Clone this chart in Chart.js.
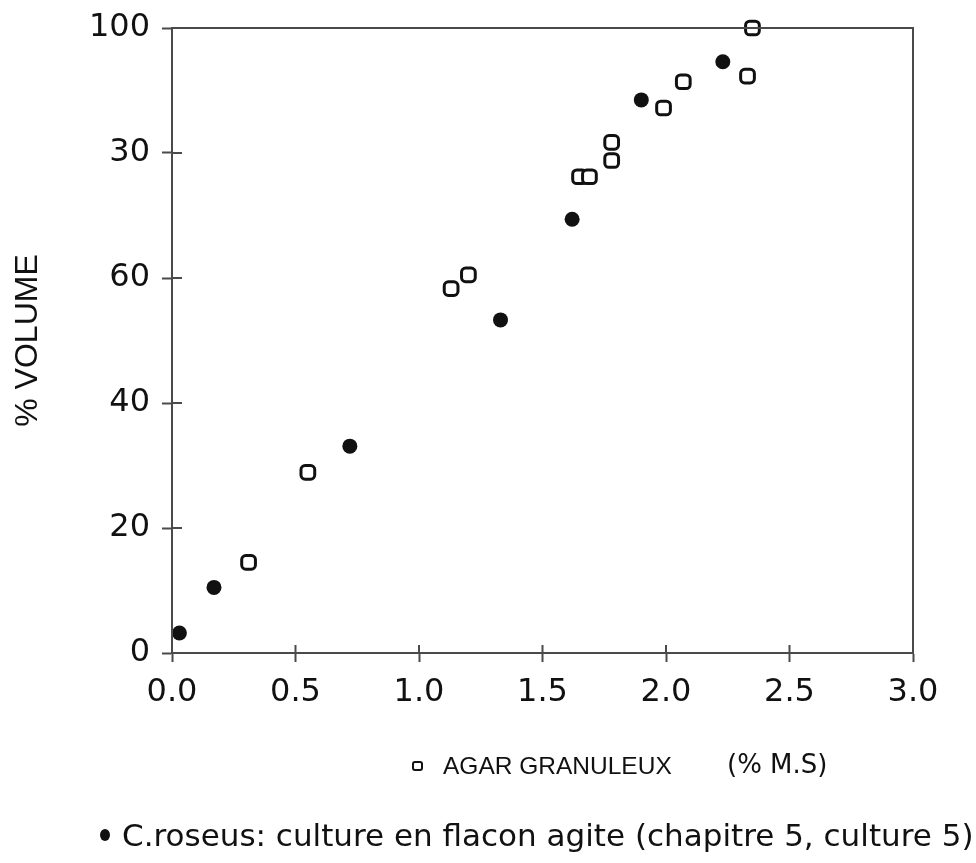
<!DOCTYPE html>
<html>
<head>
<meta charset="utf-8">
<script src="https://cdn.jsdelivr.net/npm/chart.js@4.4.1/dist/chart.umd.min.js"></script>
<style>
  html, body { margin: 0; padding: 0; background: #fff; overflow: hidden; }
  #wrap { position: relative; width: 976px; height: 863px; }
  .note { position: absolute; color: #111; white-space: pre; }
  #agar { left: 412px; top: 752px; font: 24.5px "Liberation Sans", Arial, sans-serif; }
  #agar .box {
    display: inline-block; width: 7px; height: 6px; border: 2px solid #111;
    border-radius: 3px; margin-right: 20px; vertical-align: 3px;
  }
  #unit { left: 727px; top: 749px; font: 26px "DejaVu Sans", sans-serif; }
  #flacon { left: 100px; top: 817px; font: 31px "DejaVu Sans", sans-serif; }
  #flacon .dot {
    display: inline-block; width: 10px; height: 12px; background: #111;
    border-radius: 50%; margin-right: 12px; vertical-align: 5px;
  }
</style>
</head>
<body>
<div id="wrap">
  <canvas id="chart" width="976" height="863"></canvas>
  <div class="note" id="agar"><span class="box"></span>AGAR GRANULEUX</div>
  <div class="note" id="unit">(% M.S)</div>
  <div class="note" id="flacon"><span class="dot"></span>C.roseus: culture en flacon agite (chapitre 5, culture 5)</div>
</div>
<script>
// Agar granuleux (open markers)
const agarX = [0.31, 0.55, 1.13, 1.20, 1.65, 1.69, 1.78, 1.78, 1.99, 2.07, 2.33, 2.35];
const agarY = [14.5, 28.9, 58.3, 60.5, 76.2, 76.2, 78.8, 81.7, 87.2, 91.4, 92.3, 100];

// Culture en flacon agite (filled markers)
const flaconX = [0.03, 0.17, 0.72, 1.33, 1.62, 1.90, 2.23];
const flaconY = [3.2, 10.5, 33.1, 53.3, 69.4, 88.5, 94.6];

// Tick labels as printed on the figure
const xTickLabels = ["0.0", "0.5", "1.0", "1.5", "2.0", "2.5", "3.0"];
const yTickLabels = ["0", "20", "40", "60", "30", "100"];

const toPoints = (xs, ys) => xs.map((x, i) => ({ x: x, y: ys[i] }));

const INK = "#111";
const AXIS = "#4a4a4a";

// Frame around the plot plus the inner half of the ticks
const framePlugin = {
  id: "frame",
  afterDraw(chart) {
    const { ctx, chartArea: a, scales } = chart;
    ctx.save();
    ctx.strokeStyle = AXIS;
    ctx.lineWidth = 2;
    ctx.strokeRect(a.left, a.top, a.right - a.left, a.bottom - a.top);
    scales.y.ticks.forEach((t) => {
      const py = scales.y.getPixelForValue(t.value);
      ctx.beginPath();
      ctx.moveTo(a.left, py);
      ctx.lineTo(a.left + 10, py);
      ctx.stroke();
    });
    scales.x.ticks.forEach((t) => {
      const px = scales.x.getPixelForValue(t.value);
      ctx.beginPath();
      ctx.moveTo(px, a.bottom);
      ctx.lineTo(px, a.bottom - 8);
      ctx.stroke();
    });
    ctx.restore();
  },
};

new Chart(document.getElementById("chart"), {
  type: "scatter",
  data: {
    datasets: [
      {
        label: "AGAR GRANULEUX",
        data: toPoints(agarX, agarY),
        pointStyle: "rectRounded",
        pointRadius: 8,
        pointBorderWidth: 3,
        borderColor: INK,
        backgroundColor: "#fff",
        clip: false,
      },
      {
        label: "C.roseus: culture en flacon agite",
        data: toPoints(flaconX, flaconY),
        pointStyle: "circle",
        pointRadius: 7.5,
        pointBorderWidth: 0,
        borderColor: INK,
        backgroundColor: INK,
      },
    ],
  },
  options: {
    responsive: false,
    animation: false,
    layout: {
      autoPadding: false,
      padding: { top: 28, right: 63 },
    },
    plugins: {
      legend: { display: false },
      tooltip: { enabled: false },
    },
    scales: {
      x: {
        type: "linear",
        min: 0,
        max: 3,
        afterFit(scale) {
          scale.height = 210;
        },
        grid: {
          drawOnChartArea: false,
          tickLength: 9,
          tickWidth: 2,
          tickColor: AXIS,
        },
        border: { color: AXIS, width: 2 },
        ticks: {
          stepSize: 0.5,
          padding: 11,
          color: INK,
          font: { family: "DejaVu Sans", size: 32 },
          callback: (v, i) => xTickLabels[i],
        },
      },
      y: {
        min: 0,
        max: 100,
        afterFit(scale) {
          scale.width = 172;
        },
        grid: {
          drawOnChartArea: false,
          tickLength: 10,
          tickWidth: 2,
          tickColor: AXIS,
        },
        border: { color: AXIS, width: 2 },
        ticks: {
          stepSize: 20,
          padding: 12,
          color: INK,
          font: { family: "DejaVu Sans", size: 32, lineHeight: 1 },
          callback: (v, i) => yTickLabels[i],
        },
        title: {
          display: true,
          text: "% VOLUME",
          color: INK,
          font: { family: "Liberation Sans", size: 32 },
          padding: { top: 9, bottom: 0 },
        },
      },
    },
  },
  plugins: [framePlugin],
});
</script>
</body>
</html>
